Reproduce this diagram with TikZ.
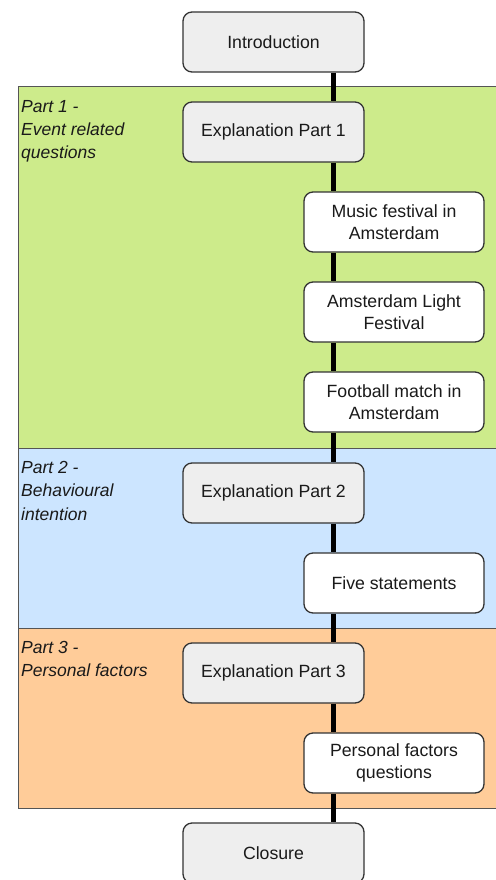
\documentclass[tikz,border=0pt]{standalone}
\usepackage{fontspec}
\setmainfont{Liberation Sans}
\definecolor{grayfill}{HTML}{EEEEEE}
\definecolor{boxline}{HTML}{333333}
\definecolor{partline}{HTML}{555555}
\definecolor{greenfill}{HTML}{CDEB8B}
\definecolor{bluefill}{HTML}{CCE5FF}
\definecolor{orangefill}{HTML}{FFCC99}
\definecolor{textcol}{HTML}{1A1A1A}
\tikzset{
  stagebox/.style={draw=boxline, line width=1.3pt, rounded corners=9pt, fill=grayfill,
    minimum width=181pt, minimum height=60pt, inner sep=0pt, align=center,
    text=textcol, font=\fontsize{17.7}{22}\selectfont},
  itembox/.style={stagebox, fill=white, minimum width=180pt},
  partbox/.style={draw=partline, line width=1pt},
  partlabel/.style={anchor=north west, align=left, inner sep=0pt, text=textcol,
    font=\fontsize{17.5}{23.3}\selectfont\itshape},
  spineline/.style={line width=5.5pt, black}
}
\begin{document}
\begin{tikzpicture}[x=1pt,y=-1pt]
\useasboundingbox (0,0) rectangle (495,880);
\fill[white] (0,0) rectangle (495,880);
% part bands
\draw[partbox, fill=greenfill] (18,87) rectangle (497,448);
\draw[partbox, fill=bluefill] (18,448) rectangle (497,628);
\draw[partbox, fill=orangefill] (18,628) rectangle (497,808);
\node[partlabel] (l1) at (21,100) {Part 1 -\\Event related\\questions};
\node[partlabel] (l2) at (21,461) {Part 2 -\\Behavioural\\intention};
\node[partlabel] (l3) at (21,641) {Part 3 -\\Personal factors};
% nodes
\node[stagebox] (intro) at (273.5,42) {Introduction};
\node[stagebox] (exp1) at (273.5,132) {Explanation Part 1};
\node[itembox] (music) at (394,222) {Music festival in\\Amsterdam};
\node[itembox] (light) at (394,312) {Amsterdam Light\\Festival};
\node[itembox] (foot) at (394,402) {Football match in\\Amsterdam};
\node[stagebox] (exp2) at (273.5,493) {Explanation Part 2};
\node[itembox] (five) at (394,583) {Five statements};
\node[stagebox] (exp3) at (273.5,673) {Explanation Part 3};
\node[itembox] (pers) at (394,763) {Personal factors\\questions};
\node[stagebox] (clos) at (273.5,853) {Closure};
\coordinate (spine) at (333.5,0);
% connectors
\foreach \a/\b in {intro/exp1,exp1/music,music/light,light/foot,foot/exp2,exp2/five,five/exp3,exp3/pers,pers/clos}{
  \draw[spineline] (\a.south -| spine) -- (\b.north -| spine);
}
\end{tikzpicture}
\end{document}
